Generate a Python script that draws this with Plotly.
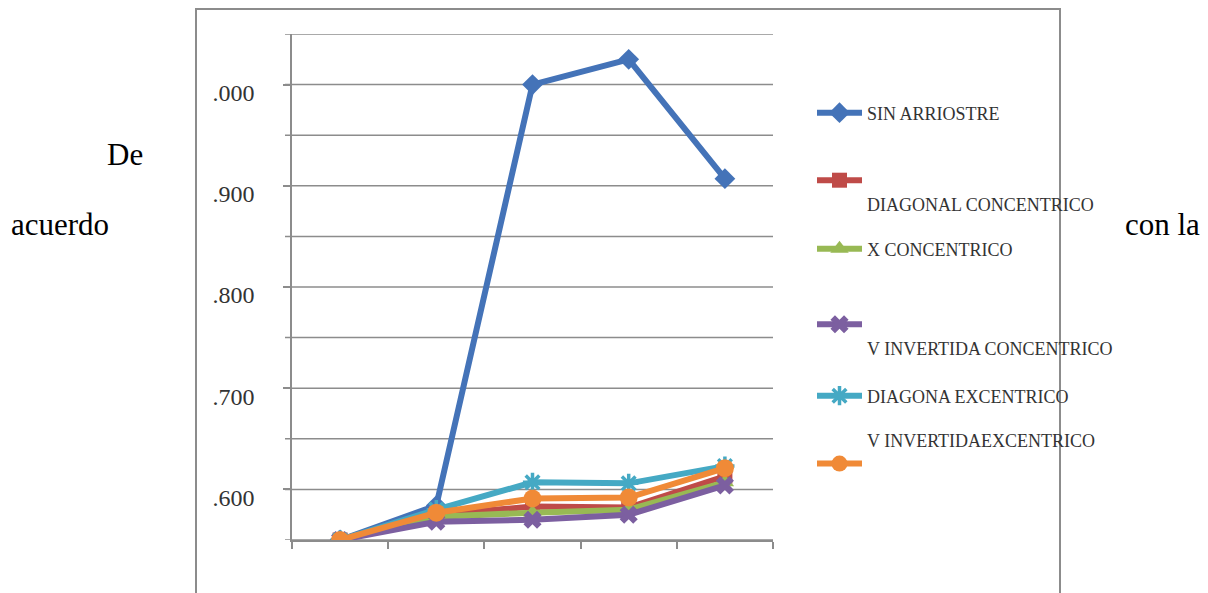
import plotly.graph_objects as go

# ---- data ----
categories = ["1", "2", "3", "4", "5"]
sin_arriostre = [0.550, 0.584, 1.000, 1.025, 0.907]
diagonal_concentrico = [0.550, 0.575, 0.583, 0.582, 0.613]
x_concentrico = [0.550, 0.573, 0.577, 0.580, 0.607]
v_invertida_concentrico = [0.550, 0.568, 0.570, 0.575, 0.604]
diagona_excentrico = [0.550, 0.580, 0.607, 0.606, 0.623]
v_invertida_excentrico = [0.550, 0.577, 0.591, 0.592, 0.621]

series_names = [
    "SIN ARRIOSTRE",
    "<br>DIAGONAL CONCENTRICO",
    "X CONCENTRICO",
    "<br>V INVERTIDA CONCENTRICO",
    "DIAGONA EXCENTRICO",
    "V INVERTIDAEXCENTRICO<br> ",
]
series_values = [sin_arriostre, diagonal_concentrico, x_concentrico,
                 v_invertida_concentrico, diagona_excentrico, v_invertida_excentrico]

tick_vals = [0.6, 0.7, 0.8, 0.9, 1.0]
tick_text = [".600", ".700", ".800", ".900", ".000"]

# ---- styling ----
colors = ["#4473b8", "#bf4b48", "#98b954", "#7c5fa0", "#45a9c4", "#f08a37"]
symbols = ["diamond", "square", "triangle-up", "x", "asterisk-open", "circle"]
msizes = [16, 15, 16, 16, 16, 18]

OFF = 8  # page body margin
W, H = 1208 - OFF, 593 - OFF
L, R, T, B = 292 - OFF, 1208 - 773, 34 - OFF, 593 - 540
pw, ph = W - L - R, H - T - B

def px_x(x):
    return (x - OFF - L) / pw

def px_y(y):
    return (H - B - (y - OFF)) / ph

legend_centers = [113, 192, 249, 336, 396, 452]
legend_valign = ["middle", "top", "middle", "top", "middle", "bottom"]

fig = go.Figure()
for i, (name, vals) in enumerate(zip(series_names, series_values)):
    marker = dict(symbol=symbols[i], size=msizes[i], color=colors[i])
    if symbols[i] == "asterisk-open":
        marker["line"] = dict(color=colors[i], width=3.5)
    fig.add_trace(go.Scatter(
        x=categories, y=vals, name=name, mode="lines+markers",
        line=dict(color=colors[i], width=6),
        marker=marker,
        legend="legend" if i == 0 else f"legend{i+1}",
    ))

legend_font = dict(family="Liberation Serif", size=18, color="#333333")
for i in range(6):
    key = "legend" if i == 0 else f"legend{i+1}"
    fig.layout[key] = dict(
        x=px_x(812), y=px_y(legend_centers[i]), xanchor="left", yanchor="middle",
        font=legend_font, bgcolor="rgba(0,0,0,0)", valign=legend_valign[i],
        borderwidth=0, itemwidth=45,
    )

fig.update_layout(
    width=W, height=H,
    margin=dict(l=L, r=R, t=T, b=B, autoexpand=False),
    paper_bgcolor="white", plot_bgcolor="white",
    showlegend=True,
    xaxis=dict(
        type="category", range=[-0.5, 4.5], showticklabels=False,
        ticks="outside", tickson="boundaries", ticklen=7, tickwidth=1.5,
        tickcolor="#8c8c8c", showgrid=False, showline=True,
        linecolor="#8c8c8c", linewidth=1.5, zeroline=False,
    ),
    yaxis=dict(
        range=[0.55, 1.05], tickvals=tick_vals, ticktext=tick_text,
        ticks="outside", ticklen=7, tickwidth=1.5, tickcolor="#8c8c8c",
        showgrid=False, showline=True, linecolor="#8c8c8c", linewidth=1.5,
        zeroline=False, ticklabelstandoff=24, ticklabelshift=8,
        tickfont=dict(family="Liberation Serif", size=24, color="#333333"),
    ),
)

# horizontal gridlines every 0.05
grid_vals = [0.55 + 0.05 * k for k in range(11)]
for g in grid_vals:
    fig.add_shape(type="line", xref="paper", yref="y", x0=px_x(285), x1=1, y0=g, y1=g,
                  line=dict(color="#8c8c8c", width=1.5), layer="below")

# chart frame
fig.add_shape(type="rect", xref="paper", yref="paper",
              x0=px_x(196), x1=px_x(1060), y0=px_y(610), y1=px_y(9),
              line=dict(color="#8c8c8c", width=2), layer="below")

# surrounding document text
doc_font = dict(family="Liberation Serif", size=31, color="#000000")
fig.add_annotation(text="De", xref="paper", yref="paper", x=px_x(105), y=px_y(155),
                   xanchor="left", yanchor="middle", showarrow=False, font=doc_font)
fig.add_annotation(text="acuerdo", xref="paper", yref="paper", x=px_x(9), y=px_y(224),
                   xanchor="left", yanchor="middle", showarrow=False, font=doc_font)
fig.add_annotation(text="con la", xref="paper", yref="paper", x=px_x(1123), y=px_y(224),
                   xanchor="left", yanchor="middle", showarrow=False, font=doc_font)

fig.write_html("out.html")
